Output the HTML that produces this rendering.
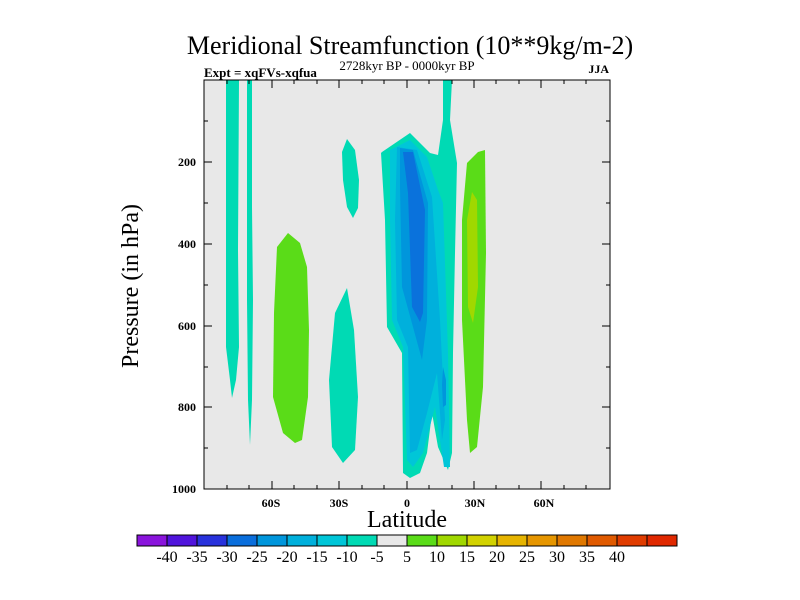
<!DOCTYPE html>
<html><head><meta charset="utf-8"><style>
html,body{margin:0;padding:0;background:#fff;}
svg{display:block;font-family:"Liberation Serif",serif;}
</style></head><body>
<svg width="800" height="600" viewBox="0 0 800 600" xmlns="http://www.w3.org/2000/svg">
<rect width="800" height="600" fill="#fff"/>
<text x="410" y="54" font-size="26" text-anchor="middle">Meridional Streamfunction (10**9kg/m-2)</text>
<text x="204" y="77" font-size="13" font-weight="bold">Expt = xqFVs-xqfua</text>
<text x="407" y="70" font-size="13" text-anchor="middle">2728kyr BP - 0000kyr BP</text>
<text x="609" y="73" font-size="12" font-weight="bold" text-anchor="end">JJA</text>
<rect x="204" y="80" width="406" height="409" fill="#e8e8e8"/>
<g fill="#00dab4">
<polygon points="226,80 239,80 238,250 239,347 236,380 232,398 230,380 226,347"/>
<polygon points="247,80 252,80 252,207 253,300 252,400 250,445 248,400 247,300"/>
<polygon points="347,139 355,150 359,180 358,208 353,218 347,207 343,180 342,152"/>
<polygon points="347,288 354,330 358,397 355,450 343,463 332,447 329,380 335,313"/>
<polygon points="443,80 452,80 450,120 457,163 455,253 453,353 452,453 448,470 438,447 432,413 427,453 420,473 410,478 403,473 402,353 387,327 385,220 381,153 382,152 410,133 430,153 438,155 443,120"/>
</g>
<polygon fill="#5adc18" points="288,233 300,243 307,267 309,330 308,397 302,440 295,443 283,433 273,397 274,313 277,247"/>
<polygon fill="#00c6d8" points="390,150 410,140 427,157 438,190 443,203 448,353 450,467 444,467 435,407 423,453 413,467 407,460 403,347 392,320 390,220"/>
<polygon fill="#00b0dc" points="397,147 417,150 432,197 440,320 445,420 442,440 437,373 427,413 417,450 410,453 408,347 397,320 395,220"/>
<polygon fill="#0096dc" points="400,148 413,150 428,203 427,320 422,360 413,327 402,287 400,187"/>
<polygon fill="#0096dc" points="443,367 446,380 446,405 443,407 442,385"/>
<polygon fill="#0a72dc" points="403,152 413,152 425,210 423,313 420,322 412,307 408,193"/>
<polygon fill="#5adc18" points="467,163 478,152 485,150 486,253 483,387 477,447 470,453 467,420 462,320 462,220"/>
<polygon fill="#a0d800" points="472,192 477,200 478,287 473,323 468,307 467,220"/>
<rect x="204" y="80" width="406" height="409" fill="none" stroke="#000" stroke-width="1"/>
<g stroke="#000" stroke-width="1">
<path d="M272,489v-8M339,489v-8M407,489v-8M474,489v-8M541,489v-8M272,80v8M339,80v8M407,80v8M474,80v8M541,80v8"/>
<path d="M227,489v-4M249,489v-4M294,489v-4M317,489v-4M362,489v-4M384,489v-4M429,489v-4M452,489v-4M496,489v-4M519,489v-4M564,489v-4M586,489v-4M227,80v4M249,80v4M294,80v4M317,80v4M362,80v4M384,80v4M429,80v4M452,80v4M496,80v4M519,80v4M564,80v4M586,80v4"/>
<path d="M204,162h8M204,244h8M204,326h8M204,407h8M610,162h-8M610,244h-8M610,326h-8M610,407h-8"/>
<path d="M204,121h4M204,203h4M204,285h4M204,367h4M204,448h4M610,121h-4M610,203h-4M610,285h-4M610,367h-4M610,448h-4"/>
</g>
<g font-size="12" font-weight="bold" text-anchor="end">
<text x="196" y="166">200</text><text x="196" y="248">400</text><text x="196" y="330">600</text><text x="196" y="411">800</text><text x="196" y="493">1000</text>
</g>
<g font-size="12" font-weight="bold" text-anchor="middle">
<text x="271" y="507">60S</text><text x="339" y="507">30S</text><text x="407" y="507">0</text><text x="475" y="507">30N</text><text x="544" y="507">60N</text>
</g>
<text x="407" y="527" font-size="24" text-anchor="middle">Latitude</text>
<text transform="translate(138,286) rotate(-90)" font-size="24" text-anchor="middle">Pressure (in hPa)</text>
<g stroke="#000" stroke-width="1">
<rect x="137" y="535" width="30" height="11" fill="#8a14dc"/>
<rect x="167" y="535" width="30" height="11" fill="#5014dc"/>
<rect x="197" y="535" width="30" height="11" fill="#2832dc"/>
<rect x="227" y="535" width="30" height="11" fill="#0a6edc"/>
<rect x="257" y="535" width="30" height="11" fill="#0096dc"/>
<rect x="287" y="535" width="30" height="11" fill="#00b0dc"/>
<rect x="317" y="535" width="30" height="11" fill="#00c6d8"/>
<rect x="347" y="535" width="30" height="11" fill="#00dab4"/>
<rect x="377" y="535" width="30" height="11" fill="#e8e8e8"/>
<rect x="407" y="535" width="30" height="11" fill="#5adc18"/>
<rect x="437" y="535" width="30" height="11" fill="#a0d800"/>
<rect x="467" y="535" width="30" height="11" fill="#d2d200"/>
<rect x="497" y="535" width="30" height="11" fill="#e6b400"/>
<rect x="527" y="535" width="30" height="11" fill="#e69600"/>
<rect x="557" y="535" width="30" height="11" fill="#e07800"/>
<rect x="587" y="535" width="30" height="11" fill="#e05a00"/>
<rect x="617" y="535" width="30" height="11" fill="#e03c00"/>
<rect x="647" y="535" width="30" height="11" fill="#e02800"/>
</g>
<g font-size="16" text-anchor="middle">
<text x="167" y="562">-40</text><text x="197" y="562">-35</text><text x="227" y="562">-30</text><text x="257" y="562">-25</text><text x="287" y="562">-20</text><text x="317" y="562">-15</text><text x="347" y="562">-10</text><text x="377" y="562">-5</text><text x="407" y="562">5</text><text x="437" y="562">10</text><text x="467" y="562">15</text><text x="497" y="562">20</text><text x="527" y="562">25</text><text x="557" y="562">30</text><text x="587" y="562">35</text><text x="617" y="562">40</text>
</g>
</svg>
</body></html>
